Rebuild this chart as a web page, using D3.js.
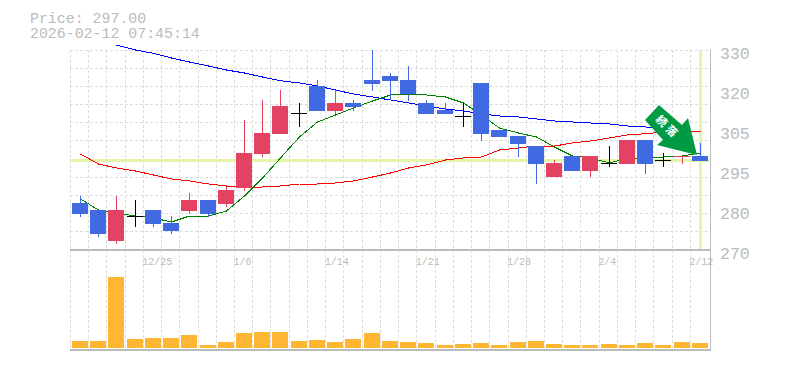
<!DOCTYPE html>
<html>
<head>
<meta charset="utf-8">
<style>
  html, body { margin: 0; background: #fff; }
  .canvas { width: 785px; height: 370px; overflow: hidden; }
  svg { display: block; }
  .tick text { font-family: "Liberation Mono", monospace; fill: #bbb; }
</style>
</head>
<body>
<div class="canvas"></div>
<script src="https://d3js.org/d3.v7.min.js"></script>
<script>
// Data
const dates = ['12/19','12/22','12/23','12/24','12/25','12/26','12/29','12/30','1/5','1/6','1/7','1/8','1/9','1/13','1/14','1/15','1/16','1/19','1/20','1/21','1/22','1/23','1/26','1/27','1/28','1/29','1/30','2/2','2/3','2/4','2/5','2/6','2/9','2/10','2/12'];
const dateTicks = ['12/25','1/6','1/14','1/21','1/28','2/4','2/12'];
const priceTicks = [270, 282, 294, 306, 318, 330];
const priceLabels = ['270', '280', '295', '305', '320', '330'];

const opens = [284.1,282,272.7,280.2,282,278.1,281.7,285,283.8,288.6,298.8,304.8,311.1,319.2,311.7,314.1,321,322.2,321,314.1,312,310.2,320.1,306,304.2,301.2,291.9,298.2,293.7,296.1,295.8,303,297,297.9,298.2];
const highs = [286.2,282,286.2,285,282,280.2,287.1,285,289.2,309,315,318,314.1,321,318,315,330,323.1,325.2,315,314.1,314.1,320.1,306,304.2,301.2,297,298.2,298.2,301.2,303,303,299.1,298.2,302.1];
const lows = [279.9,273.9,271.8,276.9,276.9,274.8,280.8,279.9,282.9,287.7,297.9,304.8,306.9,311.7,310.8,311.7,317.7,315,314.7,310.8,310.8,306.9,302.7,303.9,297.9,289.8,291.9,293.7,291.9,294.9,295.8,292.8,294.9,295.8,296.7];
const closes = [280.8,274.8,282,280.2,277.8,275.7,285,280.8,288,299.1,305.1,313.2,311.1,311.7,314.1,312.9,319.8,320.7,316.8,310.8,310.8,310.2,304.8,303.9,301.8,295.8,296.1,293.7,298.2,296.1,303,295.8,297,298.2,296.7];
const volumes = [7,7,71,9,10,10,13,3,6,15,16,16,7,8,6,9,15,7,6,5,3,4,5,3,6,7,4,3,3,4,3,5,3,6,5];

const maLong = [null,null,331.5,330,329,327.6,326.4,325.2,324,323.1,321.9,320.8,320.1,319.2,318,316.8,315.9,315,314.1,313.2,312.3,311.7,310.8,310.2,309.9,309.3,308.7,308.4,308.1,307.8,307.2,306.9,306.3,305.9,305.4];
const maMid = [298.8,295.8,294.6,293.7,292.5,291.3,290.7,289.8,289.2,288.9,288.9,289.2,289.8,289.8,290.1,290.7,291.9,293.1,294.6,295.5,297,297.6,297.9,300,300.6,301.2,301.2,302.1,302.7,303.6,304.5,304.9,305.4,305.7,305.4];
const maShort = [285.3,282,281.1,280.2,279.6,278.4,280.2,280.2,281.7,286.2,291.6,297.6,303.9,308.4,310.5,312.6,314.7,316.5,316.8,316.5,315.9,314.1,310.5,306.6,305.1,303.9,300.9,298.2,297.6,296.1,297.6,297.6,297.9,298.2,299.1];

const lastPrice = 297;
const titleLines = ['Price: 297.00', '2026-02-12 07:45:14'];
const signalLabel = '続落';

// Setup
const svg = d3.select('.canvas')
    .append('svg')
    .attr('width', 785)
    .attr('height', 370);

const grey = '#bbb';
const left = 70.4, right = 710.5;
const priceTop = 50, priceBottom = 250, volBottom = 350;

// Scales
const x = d3.scaleBand()
    .domain(dates)
    .range([left, 708.6]);
const y = d3.scaleLinear()
    .domain([270, 330])
    .range([priceBottom, priceTop]);
const v = d3.scaleLinear()
    .domain([0, 100])
    .range([348, 248]);

// bars sit 1-2px right of the grid line
const barLeft = d => Math.round(x(d) + 1.5);
const barMid = d => barLeft(d) + 8.5;

// Grid
const grid = svg.append('g')
    .attr('stroke', '#ddd')
    .attr('stroke-dasharray', '3,2')
    .attr('shape-rendering', 'crispEdges');
grid.selectAll('.v')
    .data(dates)
    .join('line')
    .attr('x1', d => Math.floor(x(d)) + 0.5)
    .attr('x2', d => Math.floor(x(d)) + 0.5)
    .attr('y1', priceTop)
    .attr('y2', volBottom);
grid.selectAll('.h')
    .data(d3.range(11))
    .join('line')
    .attr('x1', left)
    .attr('x2', right)
    .attr('y1', d => Math.floor(priceTop + d * 200 / 11) + 0.5)
    .attr('y2', d => Math.floor(priceTop + d * 200 / 11) + 0.5);

// Last price cross
svg.append('line')
    .attr('x1', left).attr('x2', right)
    .attr('y1', y(lastPrice)).attr('y2', y(lastPrice))
    .attr('stroke', '#e4f4a8').attr('stroke-width', 3)
    .attr('shape-rendering', 'crispEdges');
svg.append('line')
    .attr('x1', barMid(dates[34])).attr('x2', barMid(dates[34]))
    .attr('y1', priceTop).attr('y2', priceBottom)
    .attr('stroke', '#e4f4a8').attr('stroke-width', 3)
    .attr('shape-rendering', 'crispEdges');

// Panel frame
const frame = svg.append('g').attr('stroke', grey).attr('stroke-width', 1.5).attr('shape-rendering', 'crispEdges');
frame.append('line').attr('x1', left).attr('x2', right).attr('y1', priceBottom).attr('y2', priceBottom);
frame.append('line').attr('x1', left).attr('x2', right).attr('y1', volBottom).attr('y2', volBottom);
frame.append('line').attr('x1', right).attr('x2', right).attr('y1', priceTop).attr('y2', volBottom);

// Moving averages go under the candles
const maLine = d3.line()
    .defined(d => d !== null)
    .x((d, i) => barMid(dates[i]))
    .y(d => y(d));
[[maLong, '#0000ff'], [maMid, '#ff0000'], [maShort, '#008000']].forEach(([vals, col]) => {
    svg.append('path')
        .attr('d', maLine(vals))
        .attr('fill', 'none')
        .attr('stroke', col)
        .attr('stroke-width', 1)
        .attr('shape-rendering', 'crispEdges');
});

// Candles
const candleColor = i => closes[i] > opens[i] ? '#e34262' : closes[i] < opens[i] ? '#4169e1' : '#000';
const candles = svg.append('g').attr('shape-rendering', 'crispEdges');
dates.forEach((d, i) => {
    candles.append('line')
        .attr('x1', barMid(d)).attr('x2', barMid(d))
        .attr('y1', y(highs[i])).attr('y2', y(lows[i]))
        .attr('stroke', candleColor(i));
    if (opens[i] === closes[i]) {
        candles.append('line')
            .attr('x1', barLeft(d)).attr('x2', barLeft(d) + 16)
            .attr('y1', Math.round(y(opens[i])) + 0.5).attr('y2', Math.round(y(opens[i])) + 0.5)
            .attr('stroke', '#000');
    } else {
        candles.append('rect')
            .attr('x', barLeft(d))
            .attr('width', 16)
            .attr('y', y(Math.max(opens[i], closes[i])))
            .attr('height', Math.abs(y(opens[i]) - y(closes[i])))
            .attr('fill', candleColor(i));
    }
});

// Volume
svg.append('g')
    .attr('shape-rendering', 'crispEdges')
    .selectAll('rect')
    .data(volumes)
    .join('rect')
    .attr('x', (d, i) => barLeft(dates[i]))
    .attr('width', 16)
    .attr('y', d => v(d))
    .attr('height', d => v(0) - v(d))
    .attr('fill', '#ffb733');

// Axes
const yAxis = d3.axisRight(y)
    .tickValues(priceTicks)
    .tickFormat((d, i) => priceLabels[i])
    .tickSize(0)
    .tickPadding(0);
const yAxisGroup = svg.append('g')
    .attr('transform', 'translate(720, 3)')
    .call(yAxis);
yAxisGroup.select('.domain').remove();
yAxisGroup.selectAll('text').attr('font-size', 16.5);

const xAxis = d3.axisBottom(x)
    .tickValues(dateTicks)
    .tickSize(0)
    .tickPadding(0);
const xAxisGroup = svg.append('g')
    .attr('transform', `translate(${-x.bandwidth() / 2 - 1}, 258)`)
    .call(xAxis);
xAxisGroup.select('.domain').remove();
xAxisGroup.selectAll('text')
    .attr('font-size', 10)
    .attr('text-anchor', 'start');

// Title
svg.selectAll('.title')
    .data(titleLines)
    .join('text')
    .attr('x', 30)
    .attr('y', (d, i) => 23 + i * 14.5)
    .attr('font-family', '"Liberation Mono", monospace')
    .attr('font-size', 14.9)
    .attr('fill', '#bbb')
    .text(d => d);

// Signal arrow
svg.append('path')
    .attr('d', 'M659,105 L645,120 L663,140 L657,145 L697,155 L688,118 L682,125 Z')
    .attr('fill', '#009944');
svg.append('text')
    .attr('transform', 'translate(665,130) rotate(45)')
    .attr('text-anchor', 'middle')
    .attr('font-family', '"Noto Sans CJK JP", sans-serif')
    .attr('font-weight', 'bold')
    .attr('font-size', 11)
    .attr('letter-spacing', 3)
    .attr('fill', '#fff')
    .text(signalLabel);
</script>
</body>
</html>
